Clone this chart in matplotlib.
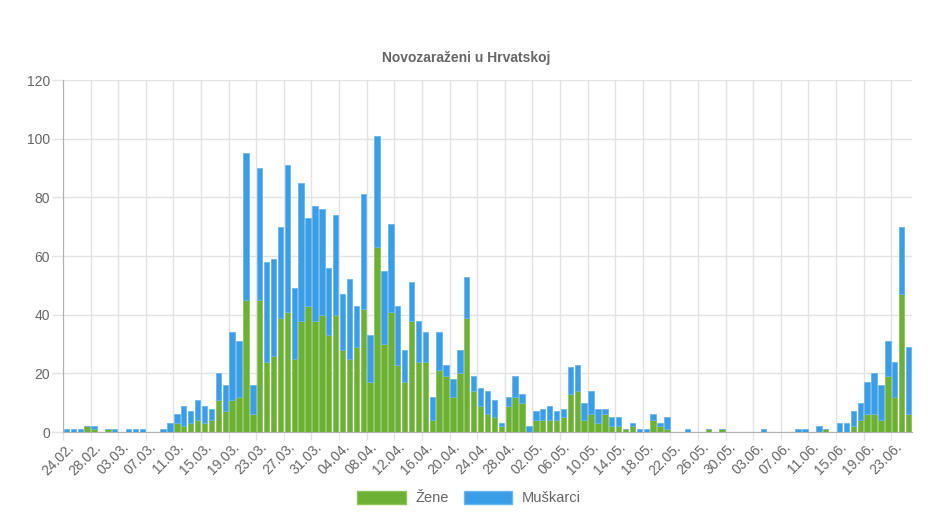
#!/usr/bin/env python3
"""Novozaraženi u Hrvatskoj - daily new cases, stacked by sex."""

import matplotlib

matplotlib.use("Agg")
import matplotlib.pyplot as plt
import numpy as np
import pandas as pd
from matplotlib.patches import Patch

plt.rcParams["font.family"] = ["Liberation Sans", "DejaVu Sans"]

start_date = "2020-02-24"

# daily new cases, 24.02. - 25.06.
zene = [
    0, 0, 0, 2, 1, 0, 1, 0, 0, 0, 0, 0, 0, 0, 0, 0, 3, 2, 3, 4,
    3, 4, 11, 7, 11, 12, 45, 6, 45, 24, 26, 39, 41, 25, 38, 43, 38, 40, 33, 40,
    28, 25, 29, 42, 17, 63, 30, 41, 23, 17, 38, 24, 24, 4, 21, 19, 12, 20, 39, 14,
    9, 6, 5, 2, 9, 12, 10, 0, 4, 4, 4, 4, 5, 13, 14, 4, 6, 3, 6, 2,
    2, 1, 2, 0, 0, 4, 2, 1, 0, 0, 0, 0, 0, 1, 0, 1, 0, 0, 0, 0,
    0, 0, 0, 0, 0, 0, 0, 0, 0, 0, 1, 0, 0, 0, 2, 4, 6, 6, 4, 19,
    12, 47, 6,
]
muskarci = [
    1, 1, 1, 0, 1, 0, 0, 1, 0, 1, 1, 1, 0, 0, 1, 3, 3, 7, 4, 7,
    6, 4, 9, 9, 23, 19, 50, 10, 45, 34, 33, 31, 50, 24, 47, 30, 39, 36, 23, 34,
    19, 27, 14, 39, 16, 38, 25, 30, 20, 11, 13, 14, 10, 8, 13, 4, 6, 8, 14, 5,
    6, 8, 6, 1, 3, 7, 3, 2, 3, 4, 5, 3, 3, 9, 9, 6, 8, 5, 2, 3,
    3, 0, 1, 1, 1, 2, 1, 4, 0, 0, 1, 0, 0, 0, 0, 0, 0, 0, 0, 0,
    0, 1, 0, 0, 0, 0, 1, 1, 0, 2, 0, 0, 3, 3, 5, 6, 11, 14, 12, 12,
    12, 23, 23,
]
dates = pd.date_range(start_date, periods=len(zene), freq="D")
date_labels = [d.strftime("%d.%m.") for d in dates]
y_ticks = [0, 20, 40, 60, 80, 100, 120]

GREEN = "#6cb035"
BLUE = "#3a9ee6"
GRID = "#e3e3e3"
TEXT = "#666666"

fig = plt.figure(figsize=(9.5, 5.28), dpi=100)
ax = fig.add_axes([63 / 950, 1 - 432 / 528, 849 / 950, 352 / 528])

x = np.arange(len(zene))
ax.bar(x, zene, width=0.78, color=GREEN, edgecolor="#8cc45e", linewidth=0.6, zorder=3)
ax.bar(x, muskarci, bottom=zene, width=0.78, color=BLUE, edgecolor="#6ab6ee",
       linewidth=0.6, zorder=3)

ax.set_xlim(-0.5, len(zene) - 0.5)
ax.set_ylim(0, 120)

# labels every 4th day, grid on category boundaries
step = 4
ax.set_xticks(x[::step])
ax.set_xticklabels(date_labels[::step], rotation=45, ha="right",
                   rotation_mode="anchor", fontsize=10, color=TEXT)
ax.tick_params(axis="x", which="major", length=0, pad=6)
ax.set_xticks(x[::step] - 0.5, minor=True)
ax.tick_params(axis="x", which="minor", length=6, color=GRID, width=1)
ax.grid(axis="x", which="minor", color=GRID, lw=1, zorder=0)

ax.set_yticks(y_ticks)
ax.set_yticklabels([str(v) for v in y_ticks], fontsize=10, color=TEXT)
ax.tick_params(axis="y", length=8, color=GRID, width=1, pad=1.5)
ax.grid(axis="y", color=GRID, lw=1, zorder=0)

for side in ("top", "right"):
    ax.spines[side].set_visible(False)
ax.spines["left"].set_color("#b0b0b0")
ax.spines["bottom"].set_color("#b0b0b0")

fig.text(0.491, 1 - 58 / 528, "Novozaraženi u Hrvatskoj", ha="center",
         va="center", fontsize=10, fontweight="bold", color=TEXT)

handles = [Patch(facecolor=GREEN, edgecolor="#8cc45e", label="Žene"),
           Patch(facecolor=BLUE, edgecolor="#6ab6ee", label="Muškarci")]
fig.legend(handles=handles, loc="center", bbox_to_anchor=(0.494, 1 - 498 / 528),
           ncol=2, frameon=False, handlelength=3.3, handleheight=1.0,
           columnspacing=1.0, handletextpad=0.7, fontsize=10.5,
           labelcolor=TEXT)

fig.savefig("out.png", dpi=100)
